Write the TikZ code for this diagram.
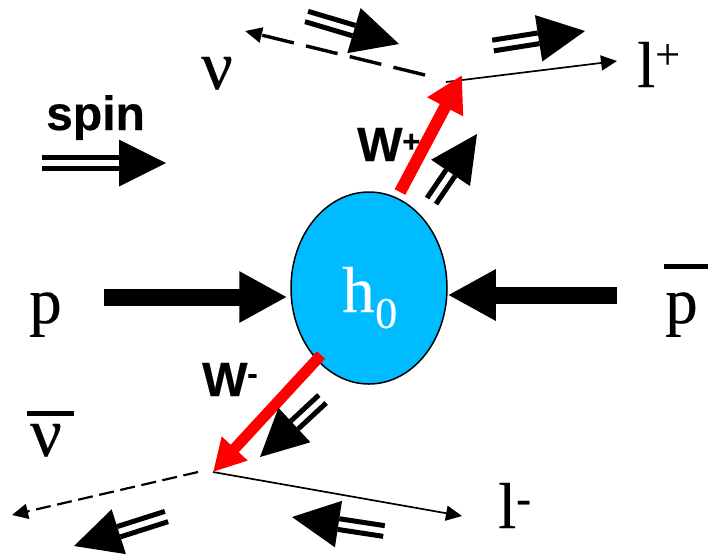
\documentclass[tikz,border=0pt]{standalone}
\usepackage{fontspec}
\setmainfont[FakeBold=0.35]{Liberation Serif}
\setsansfont[BoldFeatures={FakeBold=0.4}]{Liberation Sans}
\usetikzlibrary{calc,arrows.meta,shapes.geometric}
\newcommand{\spinarr}[2]{%
  \coordinate (sa) at (#1); \coordinate (sb) at (#2);
  \coordinate (sc) at ($(sb)!47pt!(sa)$);
  \fill ($(sc)!23.5pt!90:(sb)$) -- (sb) -- ($(sc)!23.5pt!-90:(sb)$) -- cycle;
  \draw[line width=5pt] ($(sa)!5.4pt!90:(sb)$) -- ($(sc)!5.4pt!90:(sb)$);
  \draw[line width=5pt] ($(sa)!5.4pt!-90:(sb)$) -- ($(sc)!5.4pt!-90:(sb)$);
}
\definecolor{blobblue}{RGB}{0,187,255}
\begin{document}
\begin{tikzpicture}[x=1pt,y=-1pt,
  lab/.style={inner sep=0pt,anchor=base west,font=\fontsize{65}{65}\selectfont},
  nulab/.style={inner sep=0pt,anchor=base west,font=\fontsize{70}{70}\selectfont},
  sup/.style={inner sep=0pt,anchor=base west,font=\fontsize{44}{44}\selectfont},
  bold/.style={inner sep=0pt,anchor=base west,font=\sffamily\bfseries\fontsize{48}{48}\selectfont},
  boldsup/.style={inner sep=0pt,anchor=base west,font=\sffamily\bfseries\fontsize{31}{31}\selectfont},
  beam/.style={line width=17pt,-{Triangle[length=48pt,width=48pt]}},
  wplus/.style={red,line width=12pt,-{Triangle[length=36pt,width=38pt]}},
  wminus/.style={red,line width=11pt,-{Triangle[length=32pt,width=33pt]}},
  thinl/.style={line width=1.7pt,-{Triangle[length=16pt,width=15pt]}},
  overbar/.style={line width=5pt}]
\useasboundingbox (0,0) rectangle (708,555);
\fill[white] (0,0) rectangle (708,555);
% central blob
\node[draw=black,line width=1.5pt,fill=blobblue,ellipse,minimum width=156pt,minimum height=192pt,inner sep=0pt] (blob) at (369,288) {};
\node[lab,text=white] (h) at (342,312) {h};
\node[sup,text=white] (hsub) at (375,328) {0};
% beams
\coordinate (ptail) at (104,297);
\coordinate (qtail) at (617,295);
\draw[beam,shorten >=3pt] (ptail) -- (blob.west |- ptail);
\draw[beam] (qtail) -- (blob.east |- qtail);
\node[lab] (p) at (29,323) {p};
\node[lab] (pb) at (665,323) {p};
\coordinate (pbarL) at (664,266); \coordinate (pbarR) at (708,266);
\draw[overbar] (pbarL) -- (pbarR);
% vertices and free ends
\coordinate (wpstart) at (400,192);
\coordinate (wptip) at (462,75);
\coordinate (wmstart) at (321,355);
\coordinate (wmtip) at (213,472);
\coordinate (vtop) at (446,82);
\coordinate (lpend) at (617,61);
\coordinate (nutopS) at (425,75);
\coordinate (nutopE) at (245,31);
\coordinate (nubotS) at (198,472);
\coordinate (nubotE) at (12,515);
\coordinate (lmend) at (462,516);
% thin lines
\draw[thinl] (vtop) -- (lpend);
\draw[thinl,line width=3.4pt,-{Triangle[length=17pt,width=15pt]},dash pattern=on 32.5pt off 12.5pt] (nutopS) -- (nutopE);
\draw[thinl] (wmtip) -- (lmend);
\draw[thinl,line width=2.2pt,dash pattern=on 15pt off 6.6pt] (nubotS) -- (nubotE);
% red W lines
\draw[wplus] (wpstart) -- (wptip);
\draw[wminus] (wmstart) -- (wmtip);
% spin arrows
\spinarr{42,163}{166,163}
\spinarr{306.5,16.5}{399,44}
\spinarr{493,45.5}{585,31}
\spinarr{431.5,201}{477,134}
\spinarr{322.5,399}{260,457}
\spinarr{166.5,516.5}{74,546}
\spinarr{384,531}{292,517}
% labels
\node[bold] (spin) at (46,130) {spin};
\node[bold] (wp) at (357,161) {W};
\node[boldsup] (wpp) at (402,152) {+};
\node[bold] (wm) at (202,396) {W};
\node[boldsup] (wmm) at (247,384) {-};
\node[nulab] (nu1) at (201,89) {ν};
\node[nulab] (nu2) at (30,456) {ν};
\coordinate (nubarL) at (27,413); \coordinate (nubarR) at (74,413);
\draw[overbar] (nubarL) -- (nubarR);
\node[lab] (lp) at (637,87) {l};
\node[sup] (lpp) at (655,69) {+};
\node[lab] (lm) at (498,528) {l};
\node[sup] (lmm) at (516,513) {-};
\end{tikzpicture}
\end{document}
